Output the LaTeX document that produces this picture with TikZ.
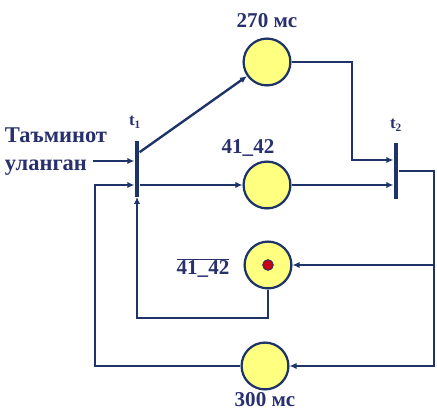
\documentclass[tikz,border=0pt]{standalone}
\usepackage{fontspec}
\setmainfont{Liberation Serif}
\usetikzlibrary{arrows.meta,positioning}
\definecolor{xNavy}{RGB}{30,52,104}
\definecolor{xText}{RGB}{40,48,110}
\definecolor{xPlace}{RGB}{255,255,128}
\definecolor{xToken}{RGB}{200,0,20}
\tikzset{
  place/.style={circle,draw=xNavy,line width=1.6pt,fill=xPlace,minimum size=1.17cm,inner sep=0pt},
  trans/.style={rectangle,fill=xNavy,minimum width=3.3pt,minimum height=1.38cm,inner sep=0pt},
  lab/.style={text=xText,font=\bfseries\fontsize{15}{18}\selectfont},
  tlab/.style={text=xText,font=\bfseries\fontsize{12}{14}\selectfont},
  arc/.style={draw=xNavy,line width=1.7pt,-{Latex[length=5pt,width=4.5pt]}},
  wire/.style={draw=xNavy,line width=1.7pt}
}
\begin{document}
\begin{tikzpicture}[x=0.025cm,y=-0.025cm]
    \useasboundingbox (0,0) rectangle (437,412);

    % transitions
    \node[trans] (t1) at (137,169) {};
    \node[trans] (t2) at (396,171) {};
    \node[tlab] (t1lab) at (135,122) {t\textsubscript{1}};
    \node[tlab] (t2lab) at (396,125) {t\textsubscript{2}};

    % places
    \node[place] (p270) at (267,62) {};
    \node[place] (p41) at (267,185) {};
    \node[place] (pnot) at (268,265) {};
    \node[place] (p300) at (265,366) {};
    \fill[xToken,draw=xNavy,line width=0.6pt] (pnot) circle (3.8pt);

    \node[lab] (l270) at (267,21) {270 мс};
    \node[lab] (l41) at (248,148) {41\_42};
    \node[lab] (lnot) at (203,268) {$\overline{\mbox{41\_42}}$};
    \node[lab] (l300) at (265,400) {300 мс};
    \node[lab,align=left,font=\bfseries\fontsize{16}{20}\selectfont] (src) at (56,152) {Таъминот\\уланган};

    % helper points
    \coordinate (inp) at (93,161);
    \coordinate (loopL) at (95,185);
    \coordinate (loopB) at (137,318);
    \coordinate (j2) at (352,160);
    \coordinate (rBot) at (434,366);

    % arcs into t1
    \draw[arc] (inp) -- (t1.west |- inp);
    \draw[arc] (p300.west) -| (loopL) -- (t1.west |- loopL);
    \draw[arc] (pnot.south) |- (loopB) -- (t1.south);

    % arcs out of t1
    \draw[arc] ([yshift=0.42cm]t1.east) -- (p270);
    \draw[arc] (t1.east |- p41) -- (p41);

    % arcs into t2
    \draw[arc] (p270.east) -| (j2) -- (t2.west |- j2);
    \draw[arc] (p41.east) -- (t2.west |- p41);

    % arcs out of t2
    \draw[arc] (t2.east) -| (rBot) -- (p300);
    \draw[arc] (pnot -| rBot) -- (pnot);
\end{tikzpicture}
\end{document}
